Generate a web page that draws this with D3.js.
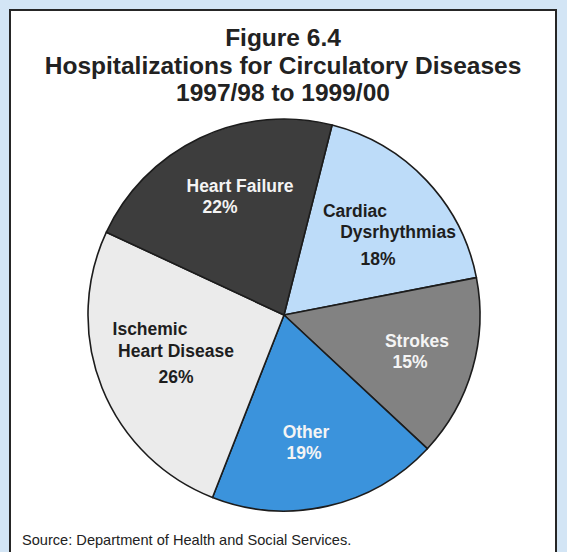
<!DOCTYPE html>
<html>
<head>
<meta charset="utf-8">
<script src="https://cdn.jsdelivr.net/npm/d3@7"></script>
<style>
  html, body { margin: 0; padding: 0; background: #d3e5f5; }
  svg { display: block; }
</style>
</head>
<body>
<script>
// Hospitalizations for circulatory diseases, share of total (%)
const categories = ["Cardiac Dysrhythmias", "Strokes", "Other", "Ischemic Heart Disease", "Heart Failure"];
const shares = [18, 15, 19, 26, 22];
const labelLines = [["Cardiac", "Dysrhythmias"], ["Strokes"], ["Other"], ["Ischemic", "Heart Disease"], ["Heart Failure"]];
const titleLines = ["Figure 6.4", "Hospitalizations for Circulatory Diseases", "1997/98 to 1999/00"];
const sourceNote = "Source: Department of Health and Social Services.";

const W = 567, H = 552;
const cx = 284, cy = 315, R = 196;
const startDeg = 14.2;

const fills = ["#bddcf9", "#828282", "#3b93dc", "#ebebeb", "#3d3d3d"];
const textFill = ["#1e1e1e", "#f4f4f4", "#f4f4f4", "#1e1e1e", "#f4f4f4"];

// hand-placed label positions for each slice: name lines, then percentage
const labelSpec = [
  { lines: [[355, 217], [398, 238]], pct: [378, 265] },
  { lines: [[417, 347]], pct: [410, 368] },
  { lines: [[306, 438]], pct: [304, 459] },
  { lines: [[150, 335], [176, 357]], pct: [176, 383] },
  { lines: [[240, 192]], pct: [220, 213] }
];

const svg = d3.select("body").append("svg")
  .attr("width", W).attr("height", H);

// framed white panel
svg.append("rect")
  .attr("x", 10).attr("y", 10)
  .attr("width", 546).attr("height", H + 10)
  .attr("fill", "#ffffff")
  .attr("stroke", "#262626").attr("stroke-width", 2);

// title
const title = svg.append("g")
  .attr("font-family", "'Liberation Sans', Arial, Helvetica, sans-serif")
  .attr("font-weight", "bold")
  .attr("font-size", 24.5)
  .attr("fill", "#222")
  .attr("text-anchor", "middle");
const titleY = [46, 74, 101];
titleLines.forEach((t, i) => {
  title.append("text").attr("x", 283).attr("y", titleY[i]).text(t);
});

// pie
const toRad = d => d * Math.PI / 180;
const pie = d3.pie().sort(null).value(d => d)
  .startAngle(toRad(startDeg)).endAngle(toRad(startDeg) + 2 * Math.PI);
const arc = d3.arc().innerRadius(0).outerRadius(R);
const arcs = pie(shares);

const g = svg.append("g").attr("transform", `translate(${cx},${cy})`);
g.selectAll("path.slice")
  .data(arcs)
  .join("path")
  .attr("class", "slice")
  .attr("d", arc)
  .attr("fill", (d, i) => fills[i])
  .attr("stroke", "#1c1c1c")
  .attr("stroke-width", 1.6)
  .attr("stroke-linejoin", "round");

// slice labels
const labels = svg.append("g")
  .attr("font-family", "'Liberation Sans', Arial, Helvetica, sans-serif")
  .attr("font-weight", "bold")
  .attr("font-size", 17.5)
  .attr("text-anchor", "middle");
arcs.forEach((d, i) => {
  const spec = labelSpec[i];
  labelLines[i].forEach((line, j) => {
    labels.append("text")
      .attr("x", spec.lines[j][0]).attr("y", spec.lines[j][1])
      .attr("fill", textFill[i])
      .text(line);
  });
  labels.append("text")
    .attr("x", spec.pct[0]).attr("y", spec.pct[1])
    .attr("fill", textFill[i])
    .text(d3.format(".0f")(d.data) + "%");
});

// source note
svg.append("text")
  .attr("x", 22).attr("y", 545)
  .attr("font-family", "'Liberation Sans', Arial, Helvetica, sans-serif")
  .attr("font-size", 14.6)
  .attr("fill", "#222")
  .text(sourceNote);
</script>
</body>
</html>
